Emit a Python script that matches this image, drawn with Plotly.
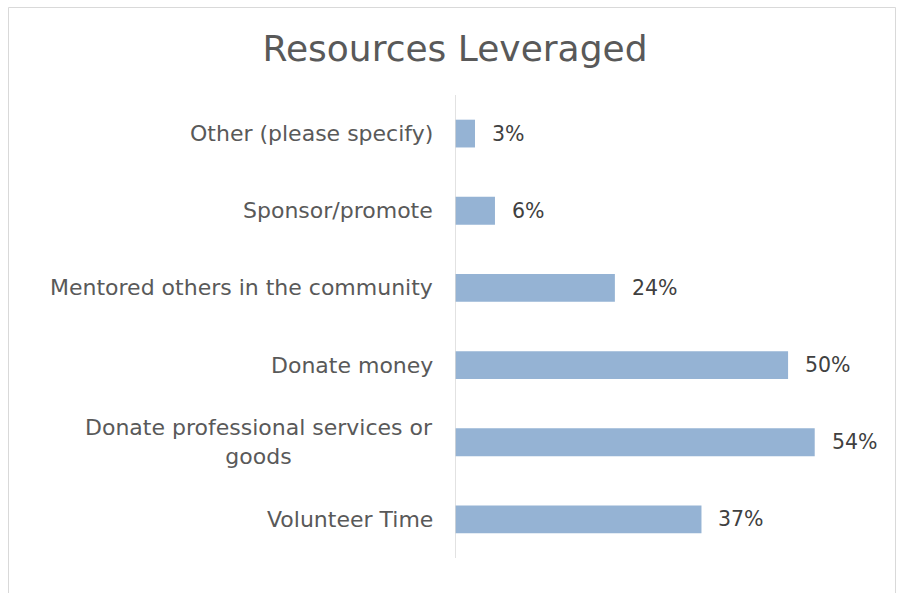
import plotly.graph_objects as go

categories = [
    "Volunteer Time",
    "Donate professional services or<br>goods",
    "Donate money",
    "Mentored others in the community",
    "Sponsor/promote",
    "Other (please specify)",
]
values = [37, 54, 50, 24, 6, 3]
value_labels = [f"{v}%" for v in values]

W, H = 903, 593
L, R, T, B = 455, 15, 95, 35
FONT = "DejaVu Sans"
TEXT = "#595959"

fig = go.Figure(
    go.Bar(
        y=categories,
        x=values,
        orientation="h",
        marker=dict(color="#95B3D4", line=dict(width=0)),
        hoverinfo="skip",
    )
)

# category labels, centred per line and right-aligned against the axis
for c in categories:
    fig.add_annotation(
        x=0, xref="paper", y=c, yref="y",
        text=c, showarrow=False, xanchor="right", align="center",
        xshift=-20, font=dict(family=FONT, size=22, color=TEXT),
    )

# value labels to the right of each bar
for c, v, lab in zip(categories, values, value_labels):
    fig.add_annotation(
        x=v, xref="x", y=c, yref="y",
        text=lab, showarrow=False, xanchor="left",
        xshift=15, font=dict(family=FONT, size=20.5, color="#404040"),
    )

pw = W - L - R
ph = H - T - B
# light frame around the chart area
fig.add_shape(
    type="rect", xref="paper", yref="paper",
    x0=(8.5 - L) / pw, x1=(895.5 - L) / pw,
    y0=(H - 620 - B) / ph, y1=(H - 7.5 - B) / ph,
    line=dict(color="#D9D9D9", width=1), fillcolor="rgba(0,0,0,0)", layer="below",
)

fig.update_layout(
    width=W, height=H,
    margin=dict(l=L, r=R, t=T, b=B),
    paper_bgcolor="white", plot_bgcolor="white",
    bargap=0.64,
    showlegend=False,
    title=dict(
        text="Resources Leveraged", x=455 / W, xref="container", xanchor="center",
        y=1 - 48 / H, yref="container", yanchor="middle",
        font=dict(family=FONT, size=36, color=TEXT),
    ),
    xaxis=dict(range=[0, 65], visible=False, fixedrange=True),
    yaxis=dict(
        showticklabels=False, showgrid=False, zeroline=False,
        showline=False, ticks="", fixedrange=True,
    ),
)
# vertical category axis line
fig.add_shape(type="line", xref="x", yref="paper", x0=0, x1=0, y0=0, y1=1,
              line=dict(color="#D9D9D9", width=1.5))

fig.write_html("out.html")
